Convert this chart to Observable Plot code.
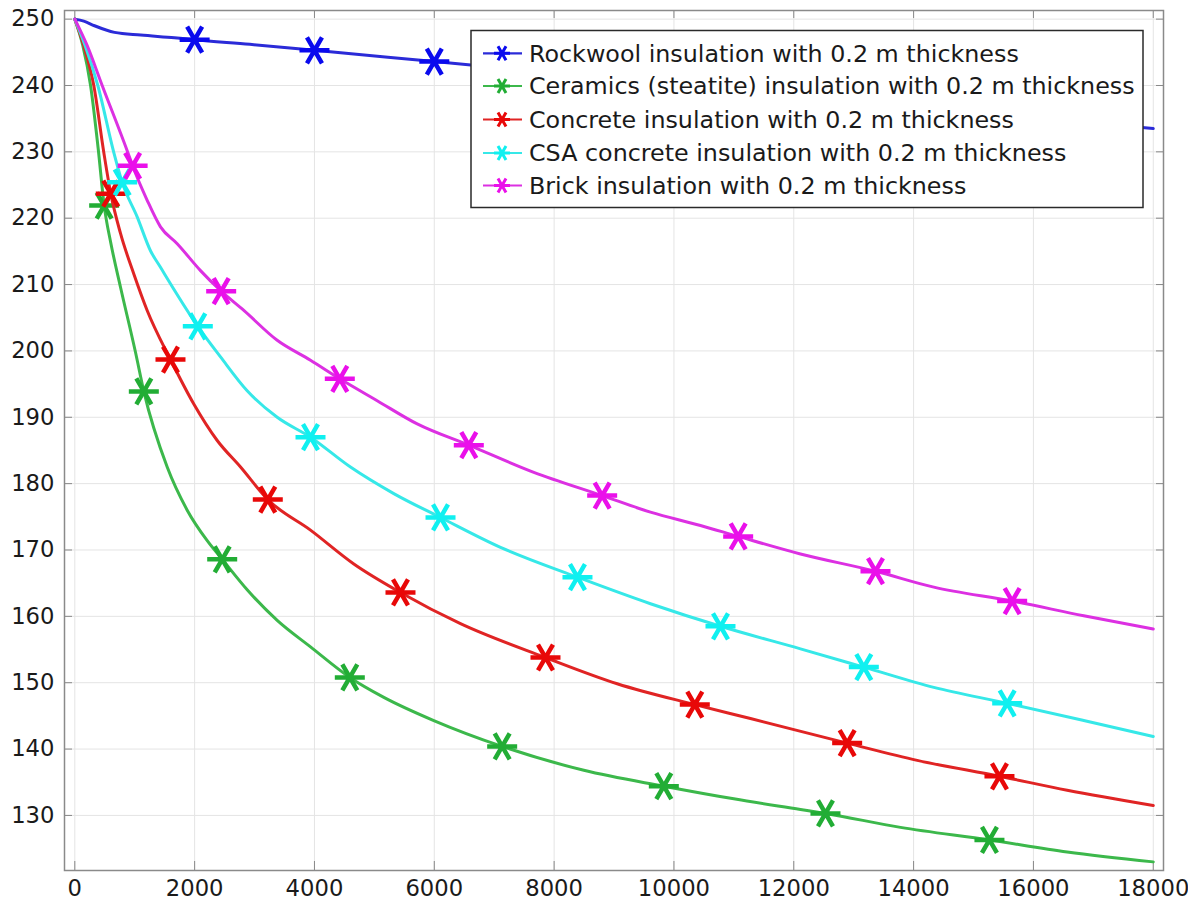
<!DOCTYPE html>
<html><head><meta charset="utf-8">
<script src="https://cdn.jsdelivr.net/npm/d3@7"></script>
<script src="https://cdn.jsdelivr.net/npm/@observablehq/plot@0.6"></script>
<style>
html,body{margin:0;padding:0;background:#fff;}
#wrap{position:relative;width:1188px;height:902px;overflow:hidden;}
#legend{position:absolute;left:0;top:0;pointer-events:none;}
</style></head><body><div id="wrap"></div>
<script>
// ---- data ----
const seriesNames = [
  "Rockwool insulation with 0.2 m thickness",
  "Ceramics (steatite) insulation with 0.2 m thickness",
  "Concrete insulation with 0.2 m thickness",
  "CSA concrete insulation with 0.2 m thickness",
  "Brick insulation with 0.2 m thickness"
];
const markerColors = ["#0a0aee", "#22ad35", "#e80808", "#10f0f0", "#ea10ea"];
const lineColors   = ["#2b2bd8", "#3cb84b", "#e02424", "#36e8e8", "#dc30e2"];

const xTicks = [0, 2000, 4000, 6000, 8000, 10000, 12000, 14000, 16000, 18000];
const yTicks = [130, 140, 150, 160, 170, 180, 190, 200, 210, 220, 230, 240, 250];

// lines (time, temperature)
const rockwoolTime = [0, 150, 329, 663, 1100, 1664, 2000, 2922, 4000, 6000, 18000];
const rockwoolTemp = [250, 249.7, 249.0, 248.0, 247.6, 247.2, 246.9, 246.2, 245.3, 243.6, 233.5];

const ceramicsTime = [0, 134, 263, 390, 490, 600, 763, 1013, 1152, 1542, 1876, 2210, 2460, 2877, 3378, 3934, 4590, 5158, 5992, 7133, 8496, 9831, 10999, 12112, 12529, 13781, 15266, 16563, 18000];
const ceramicsTemp = [250, 246, 240, 230.5, 221.9, 216.3, 209.6, 199.8, 193.9, 182.5, 176.0, 171.4, 168.6, 164.0, 159.4, 155.4, 150.8, 147.8, 144.3, 140.4, 136.8, 134.4, 132.5, 130.9, 130.3, 128.2, 126.3, 124.5, 123.0];

const concreteTime = [0, 150, 317, 484, 600, 763, 985, 1208, 1597, 1986, 2377, 2766, 3221, 3934, 4657, 5436, 6437, 7856, 9053, 10348, 11277, 12891, 14060, 15433, 16563, 18000];
const concreteTemp = [250, 246, 240, 229.9, 223.7, 217.7, 211.6, 206.1, 198.7, 192.0, 186.5, 182.5, 177.6, 173.0, 167.9, 163.6, 158.9, 153.8, 149.85, 146.7, 144.6, 140.9, 138.3, 135.9, 133.8, 131.5];

const csaTime = [0, 173, 384, 651, 791, 1041, 1263, 1430, 2053, 2432, 2877, 3378, 3934, 4601, 5324, 6104, 7105, 8390, 9608, 10777, 12112, 13169, 14337, 15562, 16840, 18000];
const csaTemp = [250, 246, 240, 229.9, 225.4, 220.2, 215.1, 212.6, 203.7, 199.1, 194.0, 190.0, 187.0, 182.5, 178.5, 174.9, 170.4, 165.9, 161.9, 158.5, 155.1, 152.35, 149.3, 146.9, 144.3, 141.9];

const brickTime = [0, 207, 457, 885, 965, 1208, 1430, 1709, 2098, 2443, 2821, 3378, 3934, 4423, 5047, 5715, 6576, 7661, 8802, 9608, 10443, 11072, 12112, 13364, 14337, 15645, 16840, 18000];
const brickTemp = [250, 246, 240, 229.9, 227.9, 222.7, 218.7, 216.15, 212.1, 209.0, 206.1, 201.6, 198.6, 195.8, 192.5, 189.0, 185.8, 181.7, 178.2, 175.7, 173.7, 172.05, 169.4, 166.8, 164.4, 162.3, 160.1, 158.1];

// markers (time, temperature)
const rockwoolMarkTime = [2000, 4000, 6000];
const rockwoolMarkTemp = [246.9, 245.3, 243.6];
const ceramicsMarkTime = [490, 1152, 2460, 4590, 7133, 9831, 12529, 15266];
const ceramicsMarkTemp = [221.9, 193.9, 168.6, 150.8, 140.4, 134.4, 130.3, 126.3];
const concreteMarkTime = [600, 1597, 3221, 5436, 7856, 10348, 12891, 15433];
const concreteMarkTemp = [223.7, 198.7, 177.6, 163.6, 153.8, 146.7, 140.9, 135.9];
const csaMarkTime = [791, 2053, 3934, 6104, 8390, 10777, 13169, 15562];
const csaMarkTemp = [225.4, 203.7, 187.0, 174.9, 165.9, 158.5, 152.35, 146.9];
const brickMarkTime = [965, 2443, 4423, 6576, 8802, 11072, 13364, 15645];
const brickMarkTemp = [227.9, 209.0, 195.8, 185.8, 178.2, 172.05, 166.8, 162.3];

// ---- build tables ----
const lineSets = [[rockwoolTime, rockwoolTemp],[ceramicsTime, ceramicsTemp],[concreteTime, concreteTemp],[csaTime, csaTemp],[brickTime, brickTemp]];
const markSets = [[rockwoolMarkTime, rockwoolMarkTemp],[ceramicsMarkTime, ceramicsMarkTemp],[concreteMarkTime, concreteMarkTemp],[csaMarkTime, csaMarkTemp],[brickMarkTime, brickMarkTemp]];
const toRows = ([ts, vs], i) => ts.map((t, j) => ({s: i, t, v: vs[j]}));

const asterisk = {
  draw(ctx, size) {
    const r = Math.sqrt(size / Math.PI);
    for (const a of [0, 60, 120]) {
      const rad = a * Math.PI / 180, dx = r * Math.cos(rad), dy = r * Math.sin(rad);
      ctx.moveTo(-dx, -dy); ctx.lineTo(dx, dy);
    }
  }
};

const seriesMarks = [];
lineSets.forEach((set, i) => {
  seriesMarks.push(Plot.line(toRows(set, i), {x: "t", y: "v", stroke: lineColors[i], strokeWidth: 3, curve: "monotone-x"}));
  seriesMarks.push(Plot.dot(toRows(markSets[i], i), {x: "t", y: "v", symbol: asterisk, r: 15, stroke: markerColors[i], strokeWidth: 4.5, fill: "none", strokeLinecap: "butt"}));
});

const fmt = d => String(d);
const chart = Plot.plot({
  width: 1188, height: 902,
  marginLeft: 64, marginRight: 25, marginTop: 10, marginBottom: 32,
  x: {domain: [-172, 18171], label: null},
  y: {domain: [121.7, 251.3], label: null},
  style: {fontFamily: "'DejaVu Sans', sans-serif", fontSize: "22.7px", color: "#1a1a1a", background: "#fff"},
  marks: [
    Plot.gridX(xTicks, {stroke: "#e4e4e4", strokeOpacity: 1}),
    Plot.gridY(yTicks, {stroke: "#e4e4e4", strokeOpacity: 1}),
    Plot.axisX(xTicks, {anchor: "bottom", tickSize: 0, tickPadding: 9, tickFormat: fmt, fontSize: 22.7, label: null}),
    Plot.axisY(yTicks, {anchor: "left", tickSize: 0, tickPadding: 10, tickFormat: fmt, fontSize: 22.7, label: null}),
    Plot.axisX(xTicks, {anchor: "bottom", tickSize: -9, fill: "none", stroke: "#888", label: null}),
    Plot.axisX(xTicks, {anchor: "top", tickSize: -7, fill: "none", stroke: "#888", label: null}),
    Plot.axisY(yTicks, {anchor: "left", tickSize: -8, fill: "none", stroke: "#888", label: null}),
    Plot.axisY(yTicks, {anchor: "right", tickSize: -8, fill: "none", stroke: "#888", label: null}),
    ...seriesMarks,
    Plot.frame({stroke: "#8a8a8a", strokeWidth: 1.5})
  ]
});
const wrap = document.getElementById("wrap");
wrap.appendChild(chart);

// ---- legend ----
const lg = d3.select(wrap).append("svg").attr("id", "legend").attr("width", 1188).attr("height", 902);
const bx = 471, by = 30.5, bw = 672, bh = 177;
lg.append("rect").attr("x", bx).attr("y", by).attr("width", bw).attr("height", bh)
  .attr("fill", "#fff").attr("stroke", "#2a2a2a").attr("stroke-width", 1.5);
const rowY = [53.3, 86, 119.5, 153, 185.5];
seriesNames.forEach((name, i) => {
  const y = rowY[i];
  lg.append("line").attr("x1", 483).attr("x2", 522).attr("y1", y).attr("y2", y)
    .attr("stroke", lineColors[i]).attr("stroke-width", 2.2);
  const r = 8;
  const p = d3.path(); asterisk.draw(p, r * r * Math.PI);
  lg.append("path").attr("d", p.toString()).attr("transform", `translate(502,${y})`)
    .attr("stroke", markerColors[i]).attr("stroke-width", 3).attr("fill", "none");
  lg.append("text").attr("x", 529).attr("y", y).attr("dy", "0.35em")
    .attr("font-family", "'DejaVu Sans', sans-serif").attr("font-size", 23.8).attr("fill", "#1a1a1a")
    .text(name);
});
</script></body></html>
